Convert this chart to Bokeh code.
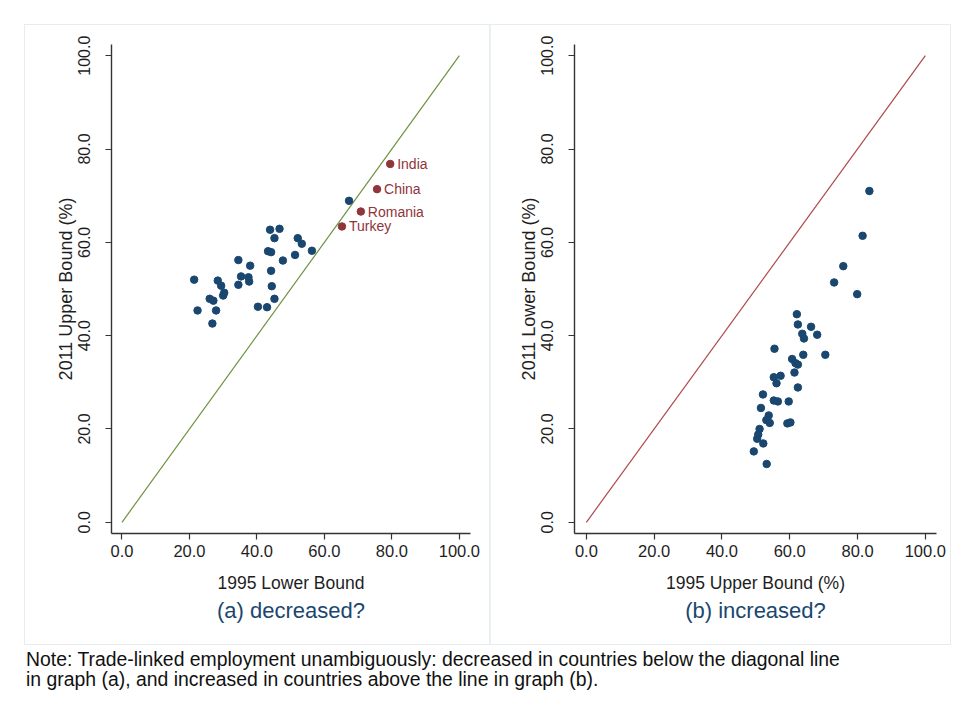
from bokeh.plotting import figure
from bokeh.models import (ColumnDataSource, FixedTicker, NumeralTickFormatter, Title,
                          Range1d, Div, Spacer, LabelSet)
from bokeh.core.properties import value
from bokeh.layouts import row, column
from bokeh.embed import file_html
from bokeh.resources import INLINE

# ---- data: panel (a) ----
a_x = [21.4, 43.9, 46.7, 45.2, 52.1, 53.3, 43.3, 44.2, 56.3, 51.3, 47.7, 34.5, 38.0,
       44.2, 35.3, 37.5, 37.7, 34.5, 28.4, 29.4, 30.3, 30.0, 44.4, 45.2, 26.0, 27.1,
       27.9, 22.4, 40.3, 43.0, 26.8, 67.3]
a_y = [52.0, 62.7, 62.9, 60.9, 60.9, 59.7, 58.1, 57.9, 58.2, 57.3, 56.1, 56.2, 55.0,
       53.9, 52.7, 52.5, 51.6, 50.9, 51.8, 50.7, 49.2, 48.6, 50.6, 47.9, 47.9, 47.5,
       45.4, 45.4, 46.2, 46.1, 42.6, 68.9]
hl_names = ["India", "China", "Romania", "Turkey"]
hl_x = [79.5, 75.6, 70.8, 65.2]
hl_y = [76.8, 71.4, 66.6, 63.4]

# ---- data: panel (b) ----
b_x = [83.5, 81.5, 75.8, 73.1, 79.9, 62.1, 62.4, 66.3, 63.7, 64.2, 68.1, 55.5, 70.5,
       64.0, 60.7, 61.7, 62.4, 61.4, 55.3, 57.3, 56.1, 62.4, 52.1, 55.3, 56.5, 59.7,
       51.5, 53.8, 53.1, 54.1, 59.3, 60.2, 51.1, 50.7, 50.4, 52.2, 49.4, 53.2]
b_y = [71.0, 61.4, 54.9, 51.4, 48.9, 44.6, 42.4, 41.9, 40.4, 39.4, 40.2, 37.2, 35.9,
       35.9, 35.0, 34.1, 33.8, 32.1, 31.1, 31.4, 29.8, 28.9, 27.4, 26.1, 25.9, 25.9,
       24.5, 22.9, 21.9, 21.3, 21.2, 21.4, 20.0, 18.8, 17.9, 16.9, 15.2, 12.5]

diag = [0, 100]
ticks = [0, 20, 40, 60, 80, 100]

FONT = "Liberation Sans"
TXT = "#1e1e1e"
BLUE = "#1a476f"
MAROON = "#90353b"


def make_panel(width, xlabel, ylabel, caption, x_start, border_left, border_right):
    p = figure(width=width, height=619, output_backend="svg", toolbar_location=None,
               title=None, x_range=Range1d(x_start, 103.3), y_range=Range1d(-2.4, 102.4),
               min_border_left=border_left, min_border_right=border_right,
               min_border_top=19, min_border_bottom=111,
               background_fill_color="white", border_fill_color="white",
               outline_line_color=None,
               styles={"box-shadow": "0 0 0 1px #e6edf1"})
    p.grid.visible = False
    for ax in (p.xaxis[0], p.yaxis[0]):
        ax.ticker = FixedTicker(ticks=ticks)
        ax.formatter = NumeralTickFormatter(format="0.0")
        ax.minor_tick_line_color = None
        ax.major_tick_in = 0
        ax.major_tick_out = 6
        ax.axis_line_color = "#333333"
        ax.axis_line_width = 1.4
        ax.major_tick_line_color = "#333333"
        ax.major_tick_line_width = 1.2
        ax.major_label_text_font = FONT
        ax.major_label_text_color = TXT
        ax.axis_label_text_font = FONT
        ax.axis_label_text_font_style = "normal"
        ax.axis_label_text_color = TXT
    p.xaxis.axis_label = xlabel
    p.xaxis.major_label_text_font_size = "16.5px"
    p.xaxis.axis_label_text_font_size = "17.5px"
    p.xaxis.major_label_standoff = 5
    p.xaxis.axis_label_standoff = 13
    p.yaxis.axis_label = ylabel
    p.yaxis.major_label_orientation = "vertical"
    p.yaxis.major_label_text_font_size = "16px"
    p.yaxis.axis_label_text_font_size = "18px"
    p.yaxis.major_label_standoff = 15
    p.yaxis.axis_label_standoff = 0
    p.add_layout(Title(text=caption, align="center", text_font=FONT,
                       text_font_size="22px", text_font_style="normal",
                       text_color="#1a476f", standoff=0), "below")
    return p


p1 = make_panel(465, "1995 Lower Bound", "2011 Upper Bound (%)", "(a) decreased?",
                -3.1, 86, 20)
p1.line(diag, diag, line_color="#6f9140", line_width=1.2)
p1.scatter(a_x, a_y, size=7.5, fill_color=BLUE, line_color=BLUE)
hl = ColumnDataSource(dict(x=hl_x, y=hl_y, name=hl_names))
p1.scatter("x", "y", source=hl, size=7.5, fill_color=MAROON, line_color=MAROON)
p1.add_layout(LabelSet(x="x", y="y", text="name", source=hl, x_offset=7,
                       text_font=value(FONT), text_font_size=value("14px"),
                       text_color=MAROON, text_baseline="middle", text_align="left"))

p2 = make_panel(460, "1995 Upper Bound (%)", "2011 Lower Bound (%)", "(b) increased?",
                -3.5, 84, 14)
p2.line(diag, diag, line_color="#b0474a", line_width=1.2)
p2.scatter(b_x, b_y, size=7.5, fill_color=BLUE, line_color=BLUE)

note = Div(text="Note: Trade-linked employment unambiguously: decreased in countries below the diagonal line"
                "<br>in graph (a), and increased in countries above the line in graph (b).",
           width=915, height=45,
           styles={"font-family": FONT, "font-size": "19.4px", "line-height": "20px",
                   "color": "#111111"})

layout = column(Spacer(height=25),
                row(Spacer(width=25), p1, p2),
                row(Spacer(width=21), note))

open("out.html", "w").write(file_html(layout, INLINE))
